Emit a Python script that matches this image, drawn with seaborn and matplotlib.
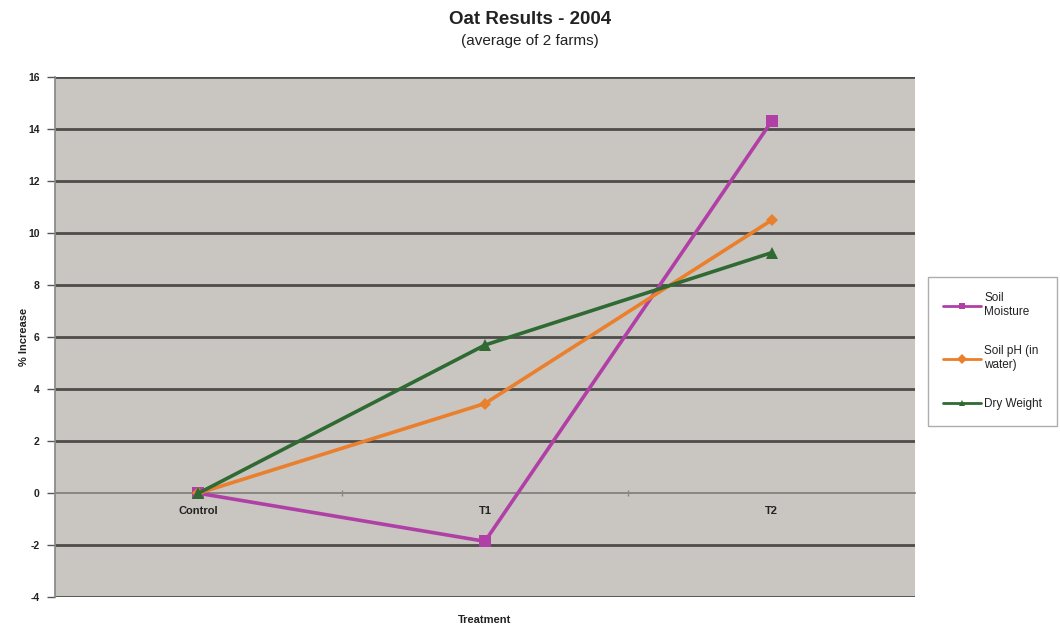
import matplotlib
matplotlib.use("Agg")
import matplotlib.pyplot as plt
import seaborn as sns
import pandas as pd
import numpy as np

# Treatment categories and % increase per measured variable
treatments = ["Control", "T1", "T2"]
soil_moisture = [0.0, -1.85, 14.3]
soil_ph = [0.0, 3.45, 10.5]
dry_weight = [0.0, 5.7, 9.25]
series_names = ["Soil\nMoisture", "Soil pH (in\nwater)", "Dry Weight"]
y_ticks = [-4, -2, 0, 2, 4, 6, 8, 10, 12, 14, 16]

sns.set_theme(style="white")
plt.rcParams["font.family"] = ["Liberation Sans", "DejaVu Sans"]

rows = []
for name, vals in zip(series_names, [soil_moisture, soil_ph, dry_weight]):
    for i, (t, v) in enumerate(zip(treatments, vals)):
        rows.append({"Treatment": t, "pos": i, "value": v, "series": name})
df = pd.DataFrame(rows)

colors = {series_names[0]: "#b03fa6", series_names[1]: "#ea7f2c", series_names[2]: "#2f6a33"}
markers = {series_names[0]: "s", series_names[1]: "D", series_names[2]: "^"}
msizes = {series_names[0]: 8, series_names[1]: 6, series_names[2]: 9}

fig = plt.figure(figsize=(10.6, 6.28), dpi=100)
ax = fig.add_axes([0.052, 0.049, 0.811, 0.828])
ax.set_facecolor("#c9c5c1")

# horizontal gridlines
for yv in y_ticks:
    if yv == 0:
        ax.axhline(yv, color="#8a8784", lw=1.4, zorder=1)
    else:
        ax.axhline(yv, color="#4e4c4a", lw=2.0, zorder=1)

sns.lineplot(data=df, x="pos", y="value", hue="series", style="series",
             palette=colors, markers=markers, dashes=False, lw=2.6,
             markeredgewidth=0, ax=ax, legend=False, zorder=3, sort=False)
for line, name in zip(ax.get_lines()[-3:], series_names):
    line.set_markersize(msizes[name])

ax.set_xlim(-0.5, 2.5)
ax.set_ylim(-4, 16)
ax.set_yticks(y_ticks)
ax.set_yticklabels([str(v) for v in y_ticks], fontsize=7.5, fontweight="bold", color="#222222")
ax.tick_params(axis="y", direction="out", length=6, width=1, color="#555555", pad=5, left=True)

# category axis drawn along the zero line
ax.spines["bottom"].set_position(("data", 0))
ax.spines["bottom"].set_color("#8a8784")
ax.set_xticks([0, 1, 2])
ax.set_xticklabels(treatments, fontsize=8, fontweight="bold", color="#222222")
ax.set_xticks([0.5, 1.5], minor=True)
ax.tick_params(axis="x", which="major", length=0, pad=9)
ax.tick_params(axis="x", which="minor", length=5, direction="inout", color="#8a8784", bottom=True)
for s in ["top", "right"]:
    ax.spines[s].set_visible(False)
ax.spines["left"].set_color("#888888")

ax.set_xlabel("Treatment", fontsize=8, fontweight="bold", color="#222222")
ax.xaxis.set_label_coords(0.5, -0.035)
ax.set_ylabel("% Increase", fontsize=8, fontweight="bold", color="#222222")
ax.yaxis.set_label_coords(-0.03, 0.5)

fig.text(0.5, 0.962, "Oat Results - 2004", ha="center", fontsize=13.5, fontweight="bold", color="#222222")
fig.text(0.5, 0.928, "(average of 2 farms)", ha="center", fontsize=11, color="#222222")

handles = [plt.Line2D([0], [0], color=colors[n], marker=markers[n], lw=2, markersize=5,
                      markeredgewidth=0) for n in series_names]
leg = fig.legend(handles, series_names, loc="upper left", bbox_to_anchor=(0.875, 0.559),
                 fontsize=8.5, frameon=True, fancybox=False, handlelength=3.2,
                 handletextpad=0.3, labelspacing=2.3, borderpad=1.3, borderaxespad=0)
leg.get_frame().set_edgecolor("#999999")
leg.get_frame().set_linewidth(1)
for t in leg.get_texts():
    t.set_color("#222222")

fig.savefig("out.png", dpi=100)
